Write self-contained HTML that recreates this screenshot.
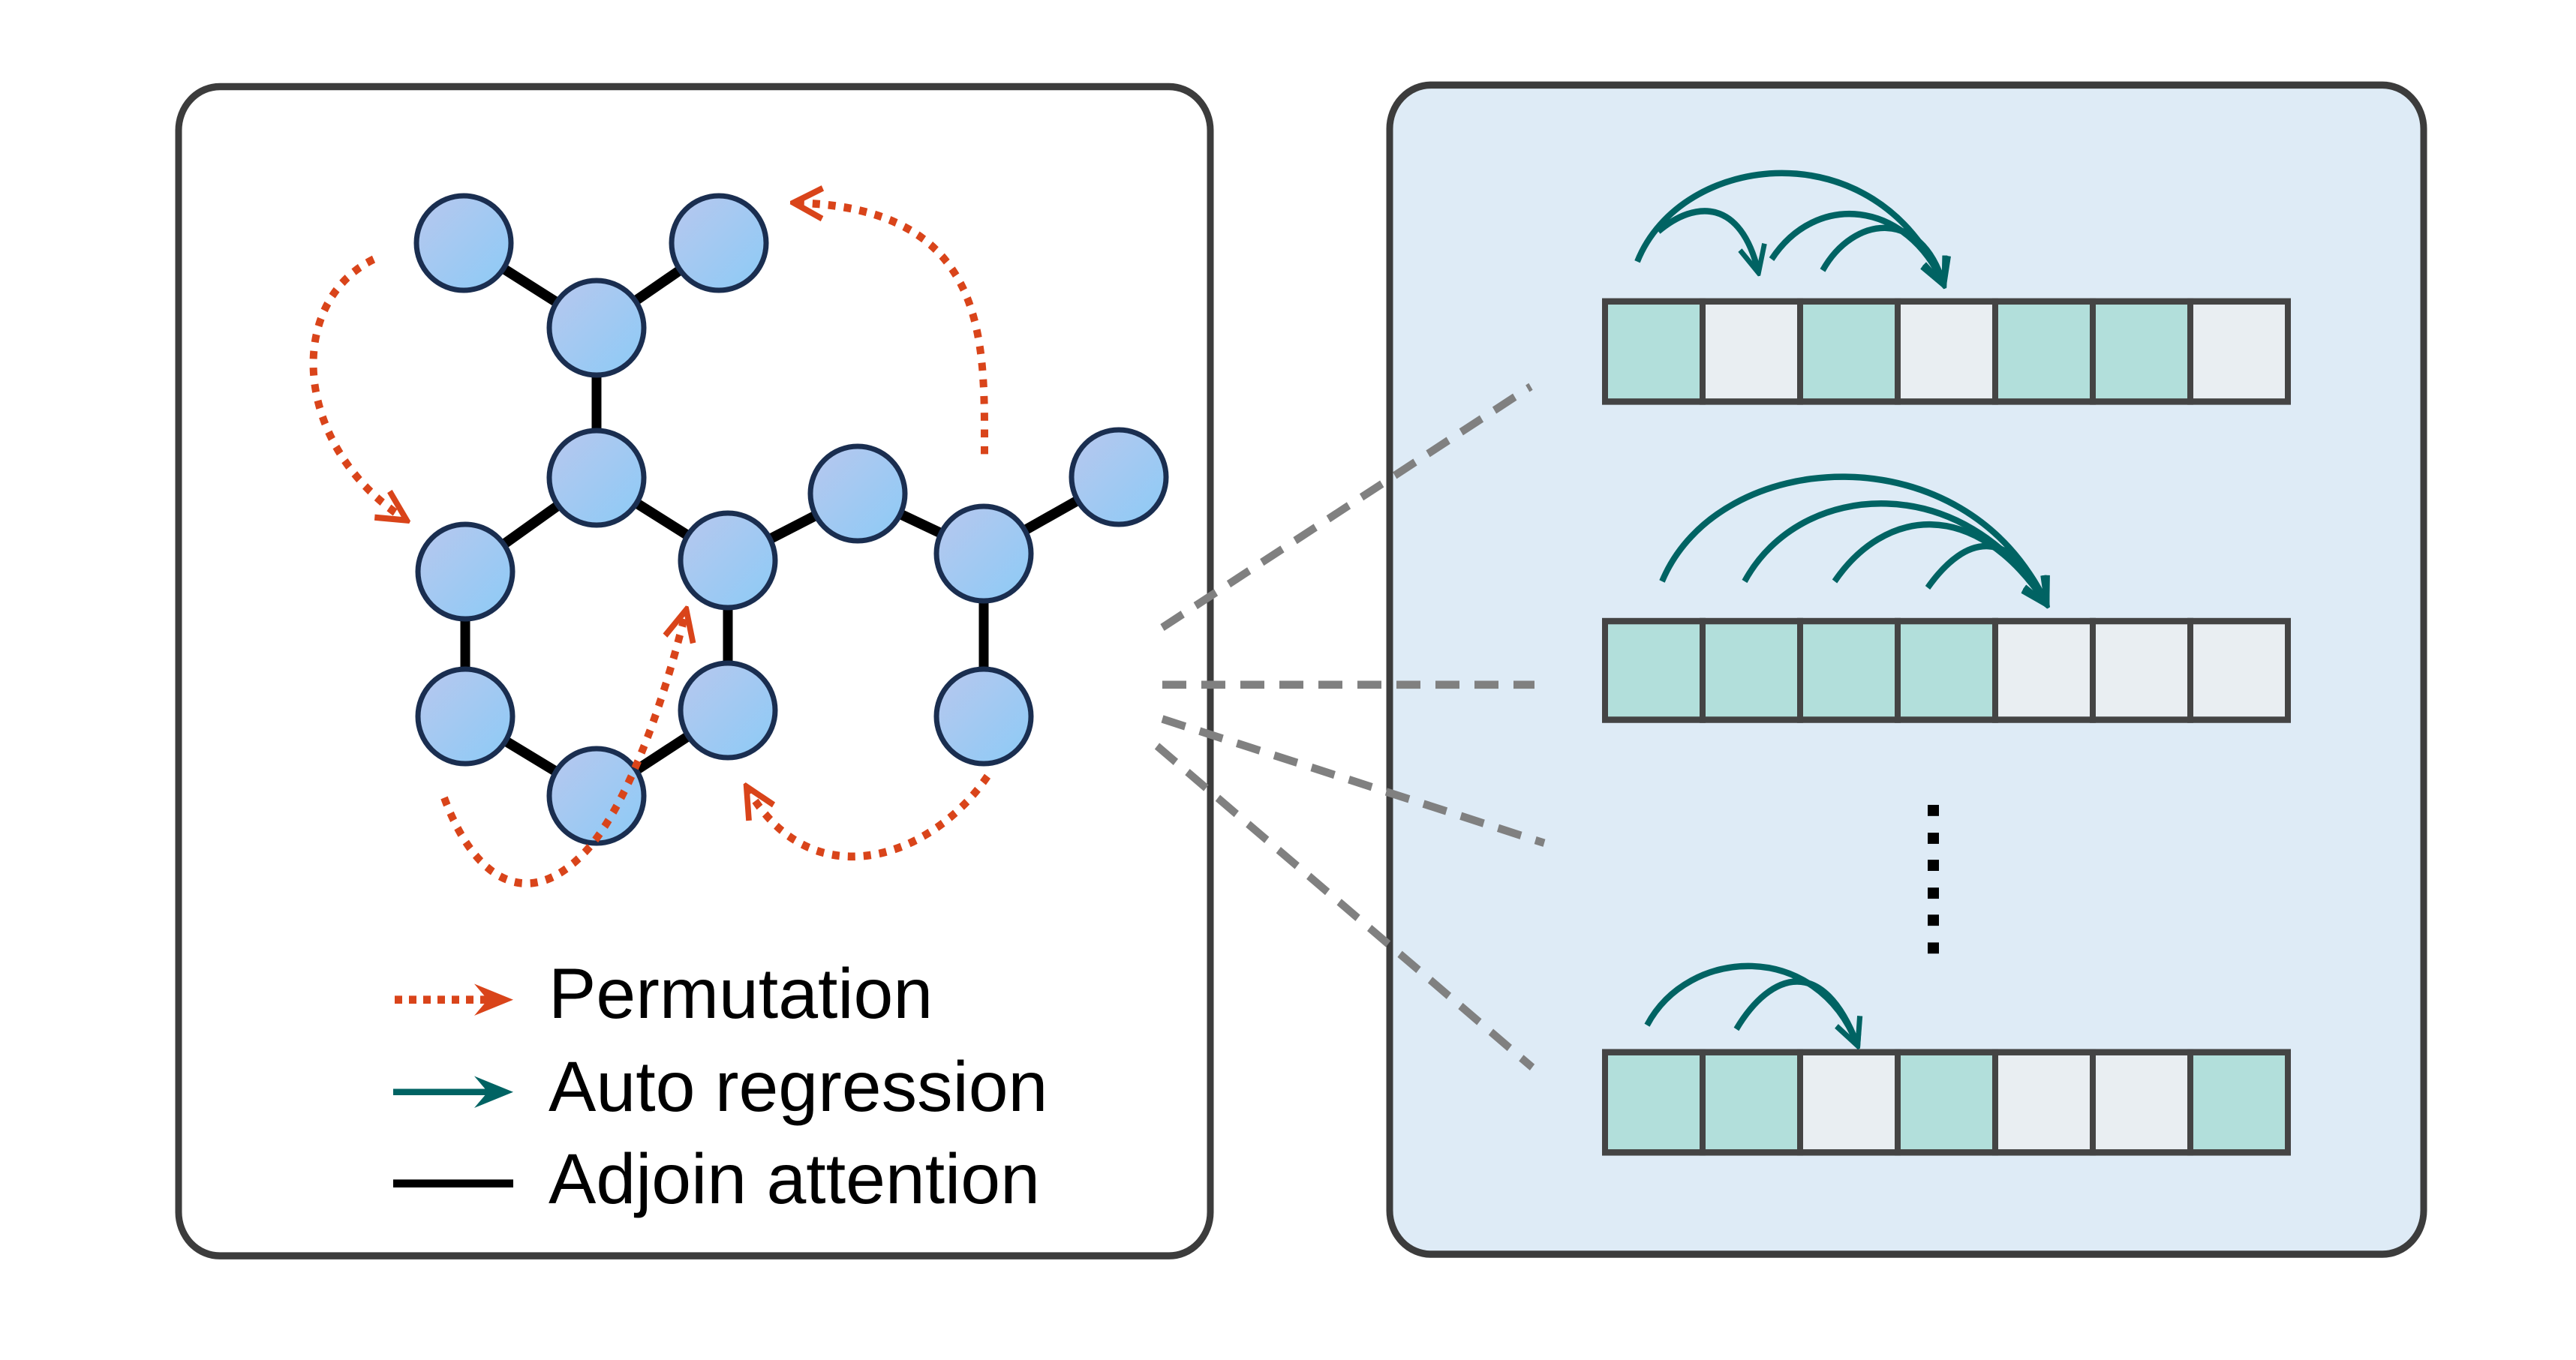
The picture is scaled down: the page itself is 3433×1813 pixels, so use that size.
<!DOCTYPE html>
<html><head><meta charset="utf-8"><style>
html,body{margin:0;padding:0;background:#fff;}
svg{display:block;}
</style></head><body>
<svg width="3433" height="1813" viewBox="0 0 3433 1813" xmlns="http://www.w3.org/2000/svg">
<defs>
<linearGradient id="ng" x1="0" y1="0" x2="1" y2="1">
<stop offset="0" stop-color="#b8c8ee"/><stop offset="1" stop-color="#8ccaf6"/>
</linearGradient>
<marker id="to" viewBox="0 0 20 20" refX="17" refY="10" markerWidth="48" markerHeight="48" markerUnits="userSpaceOnUse" orient="auto">
<path d="M2,2 L18,10 L2,18" fill="none" stroke="#d9441a" stroke-width="3.2" stroke-linejoin="miter"/>
</marker>
<marker id="tt" viewBox="0 0 20 20" refX="17" refY="10" markerWidth="42" markerHeight="42" markerUnits="userSpaceOnUse" orient="auto">
<path d="M2,2 L18,10 L2,18" fill="none" stroke="#006363" stroke-width="3.2"/>
</marker>
</defs>

<g transform="matrix(1,0,0,1.0603,0,1)">
<!-- panels -->
<rect x="238" y="108" width="1375" height="1470" rx="55" fill="#fff" stroke="#3c3c3c" stroke-width="9"/>
<rect x="1852" y="106" width="1378" height="1470" rx="55" fill="#deebf6" stroke="#3c3c3c" stroke-width="9"/>

<!-- gray dashed -->
<g stroke="#808080" stroke-width="10" stroke-dasharray="32,20" fill="none">
<line x1="1549" y1="788" x2="2040" y2="485"/>
<line x1="1549" y1="860" x2="2045" y2="860"/>
<line x1="1549" y1="903" x2="2058" y2="1059"/>
<line x1="1542" y1="937" x2="2042" y2="1341"/>
</g>

<!-- edges -->
<g stroke="#000" stroke-width="13">
<line x1="618" y1="305" x2="795" y2="411"/>
<line x1="958" y1="305" x2="795" y2="411"/>
<line x1="795" y1="411" x2="795" y2="600"/>
<line x1="795" y1="600" x2="620" y2="718"/>
<line x1="795" y1="600" x2="970" y2="704"/>
<line x1="970" y1="704" x2="1143" y2="620"/>
<line x1="1143" y1="620" x2="1311" y2="695"/>
<line x1="1311" y1="695" x2="1491" y2="599"/>
<line x1="1311" y1="695" x2="1311" y2="900"/>
<line x1="620" y1="718" x2="620" y2="900"/>
<line x1="620" y1="900" x2="795" y2="1000"/>
<line x1="795" y1="1000" x2="970" y2="892"/>
<line x1="970" y1="704" x2="970" y2="892"/>
</g>

<!-- cells -->
<g stroke="#444" stroke-width="8">
<rect x="2139" y="378" width="130" height="126" fill="#b2dfdb"/>
<rect x="2269" y="378" width="130" height="126" fill="#e9eef2"/>
<rect x="2399" y="378" width="130" height="126" fill="#b2dfdb"/>
<rect x="2529" y="378" width="130" height="126" fill="#e9eef2"/>
<rect x="2659" y="378" width="130" height="126" fill="#b2dfdb"/>
<rect x="2789" y="378" width="130" height="126" fill="#b2dfdb"/>
<rect x="2919" y="378" width="130" height="126" fill="#e9eef2"/>

<rect x="2139" y="780" width="130" height="124" fill="#b2dfdb"/>
<rect x="2269" y="780" width="130" height="124" fill="#b2dfdb"/>
<rect x="2399" y="780" width="130" height="124" fill="#b2dfdb"/>
<rect x="2529" y="780" width="130" height="124" fill="#b2dfdb"/>
<rect x="2659" y="780" width="130" height="124" fill="#e9eef2"/>
<rect x="2789" y="780" width="130" height="124" fill="#e9eef2"/>
<rect x="2919" y="780" width="130" height="124" fill="#e9eef2"/>

<rect x="2139" y="1322" width="130" height="126" fill="#b2dfdb"/>
<rect x="2269" y="1322" width="130" height="126" fill="#b2dfdb"/>
<rect x="2399" y="1322" width="130" height="126" fill="#e9eef2"/>
<rect x="2529" y="1322" width="130" height="126" fill="#b2dfdb"/>
<rect x="2659" y="1322" width="130" height="126" fill="#e9eef2"/>
<rect x="2789" y="1322" width="130" height="126" fill="#e9eef2"/>
<rect x="2919" y="1322" width="130" height="126" fill="#b2dfdb"/>
</g>

<!-- dots -->
<g fill="#000">
<rect x="2569" y="1011" width="15" height="14"/><rect x="2569" y="1046" width="15" height="14"/>
<rect x="2569" y="1080" width="15" height="14"/><rect x="2569" y="1115" width="15" height="14"/>
<rect x="2569" y="1149" width="15" height="14"/><rect x="2569" y="1184" width="15" height="14"/>
</g>

<!-- teal arcs -->
<g stroke="#006363" stroke-width="8" fill="none" marker-end="url(#tt)">
<path d="M2182,328 C2240,190 2500,160 2590,356"/>
<path d="M2210,290 C2260,250 2320,250 2343,340"/>
<path d="M2361,325 C2420,240 2540,250 2590,356"/>
<path d="M2429,339 C2470,270 2560,260 2590,356"/>

<path d="M2215,730 C2290,560 2620,540 2727,758"/>
<path d="M2325,730 C2400,600 2620,590 2727,758"/>
<path d="M2445,730 C2510,640 2630,620 2727,758"/>
<path d="M2569,738 C2620,670 2680,660 2727,758"/>

<path d="M2195,1288 C2250,1190 2420,1180 2475,1312"/>
<path d="M2314,1293 C2360,1220 2430,1200 2475,1312"/>
</g>

<!-- legend lines -->
<line x1="526" y1="1256" x2="660" y2="1256" stroke="#d9441a" stroke-width="10" stroke-dasharray="10,9"/>
<path d="M632,1236 L684,1256 L632,1276 L650,1256 Z" fill="#d9441a"/>
<line x1="524" y1="1372" x2="660" y2="1372" stroke="#006363" stroke-width="8"/>
<path d="M632,1352 L684,1372 L632,1392 L650,1372 Z" fill="#006363"/>
<line x1="524" y1="1487" x2="684" y2="1487" stroke="#000" stroke-width="10"/>
</g>

<!-- nodes -->
<g fill="url(#ng)" stroke="#1a2e50" stroke-width="7">
<circle cx="618" cy="324" r="63"/><circle cx="958" cy="324" r="63"/>
<circle cx="795" cy="437" r="63"/><circle cx="795" cy="637" r="63"/>
<circle cx="620" cy="762" r="63"/><circle cx="970" cy="747" r="63"/>
<circle cx="1143" cy="658" r="63"/><circle cx="1311" cy="738" r="63"/>
<circle cx="1491" cy="636" r="63"/><circle cx="620" cy="955" r="63"/>
<circle cx="970" cy="947" r="63"/><circle cx="795" cy="1061" r="63"/>
<circle cx="1311" cy="955" r="63"/>
</g>

<!-- permutation arrows (drawn above nodes) -->
<g transform="matrix(1,0,0,1.0603,0,1)">
<g stroke="#d9441a" stroke-width="10" stroke-dasharray="10,11" fill="none" marker-end="url(#to)">
<path d="M498,325 C380,380 390,560 540,652"/>
<path d="M1312,570 C1312,430 1320,260 1060,254"/>
<path d="M592,1002 C630,1100 700,1150 780,1070 C830,1020 880,900 914,768"/>
<path d="M1316,975 C1240,1080 1080,1130 996,990"/>
</g>
</g>

<g font-family="Liberation Sans, sans-serif" font-size="95" fill="#000">
<text x="731" y="1357">Permutation</text>
<text x="731" y="1481">Auto regression</text>
<text x="731" y="1604">Adjoin attention</text>
</g>
</svg>
</body></html>
